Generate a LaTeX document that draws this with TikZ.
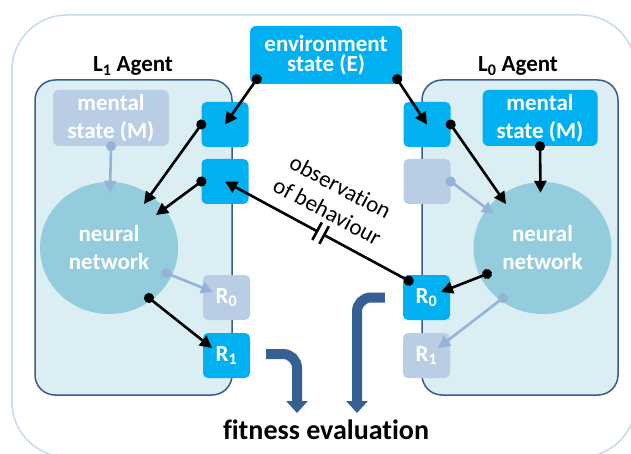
\documentclass[tikz,border=0pt]{standalone}
\usepackage{fontspec}
\setmainfont{Carlito}[Ligatures=NoCommon]
\usetikzlibrary{arrows.meta,shapes.geometric,decorations.markings}

\definecolor{active}{HTML}{00B0F0}
\definecolor{faded}{HTML}{B9CDE5}
\definecolor{fadedline}{HTML}{95B3D7}
\definecolor{agentfill}{HTML}{DBEEF4}
\definecolor{agentline}{HTML}{385D8A}
\definecolor{netfill}{HTML}{93CDDD}
\definecolor{outerline}{HTML}{C6D9F1}
\definecolor{fitline}{HTML}{376092}

\begin{document}
\begin{tikzpicture}[x=1pt, y=-1pt,
	agent/.style={draw=agentline, line width=1.5pt, fill=agentfill, rounded corners=20pt, inner sep=0pt},
	title/.style={anchor=base, inner sep=0pt, font=\fontsize{23}{28}\selectfont\bfseries},
	port/.style={rectangle, rounded corners=5pt, inner sep=0pt, minimum width=47pt, minimum height=45pt, text=white, font=\fontsize{23}{28}\selectfont\bfseries},
	statebox/.style={rectangle, rounded corners=6pt, inner sep=0pt, align=center, text=white, font=\fontsize{23}{28}\selectfont\bfseries},
	net/.style={ellipse, fill=netfill, inner sep=0pt, minimum width=138pt, minimum height=132pt, align=center, text=white, font=\fontsize{23}{28}\selectfont\bfseries},
	link/.style={line width=2.6pt, shorten <=-5pt, {Circle[length=10pt]}-{Triangle[length=12pt,width=12pt]}},
	weak/.style={link, draw=fadedline},
	fitpath/.style={draw=fitline, line width=10pt, rounded corners=14pt, -{Triangle[length=12pt,width=21pt]}},
	bars/.style={postaction={decorate}, decoration={markings, mark=at position 0.48 with {
		\fill[white] (-4,-12) rectangle (4,12);
		\draw[line width=2.6pt, arrows=-, shorten <=0pt] (-4,-10) -- (-4,10) (4,-10) -- (4,10);}}}
]
	\useasboundingbox (0,0) rectangle (631,454);
	\clip (0,0) rectangle (631,454);
	
	% Frame and agents
	\node (world) at (324,236) [draw=outerline, line width=1.5pt, rounded corners=55pt, minimum width=624pt, minimum height=442pt] {};
	\node (agentL) at (133.5,237.5) [agent, minimum width=197pt, minimum height=315pt] {};
	\node (agentR) at (520,237.5) [agent, minimum width=196pt, minimum height=315pt] {};
	\node (titleL) at (133,72) [title] {L\textsubscript{1} Agent};
	\node (titleR) at (518,72) [title] {L\textsubscript{0} Agent};
	
	% States and networks
	\node (env) at (326,55) [statebox, fill=active, minimum width=152pt, minimum height=58pt, font=\fontsize{23}{20}\selectfont\bfseries] {environment\\state (E)};
	\node (mentalL) at (111,118) [statebox, fill=faded, minimum width=116pt, minimum height=56pt] {mental\\state (M)};
	\node (mentalR) at (540,118) [statebox, fill=active, minimum width=115pt, minimum height=56pt] {mental\\state (M)};
	\node (nnL) at (109,248) [net] {neural\\network};
	\node (nnR) at (542.5,248) [net] {neural\\network};
	
	% Input ports
	\foreach \name/\x/\y/\col in {inL1/225/124.5/active, inL2/225/181.5/active, inR1/427/124.5/active, inR2/427/181.5/faded}{
		\node (\name) at (\x,\y) [port, fill=\col] {};
	}
	
	% Output ports
	\foreach \n/\y/\colL/\colR in {0/297.5/faded/active, 1/355.5/active/faded}{
		\node (outL\n) at (226.5,\y) [port, fill=\colL] {R\textsubscript{\n}};
		\node (outR\n) at (426.5,\y) [port, fill=\colR] {R\textsubscript{\n}};
	}
	
	% L1 agent links
	\draw [link] ([shift={(7,-5)}]env.south west) -- (inL1.center);
	\draw [link] (inL1.west) -- ([shift={(35,-44)}]nnL.center);
	\draw [link] (inL2.west) -- ([shift={(47,-33)}]nnL.center);
	\draw [weak] (mentalL.south) -- ([shift={(1,11)}]nnL.north);
	\draw [weak] ([shift={(57,25)}]nnL.center) -- ([shift={(-13.5,-5.5)}]outL0.center);
	\draw [link] ([shift={(40,50)}]nnL.center) -- ([shift={(-14.5,-7.5)}]outL1.center);
	
	% L0 agent links
	\draw [link] ([shift={(-5,-5)}]env.south east) -- (inR1.center);
	\draw [link] (inR1.east) -- ([shift={(-36.5,-44)}]nnR.center);
	\draw [weak] (inR2.east) -- ([shift={(-48.5,-34)}]nnR.center);
	\draw [link] (mentalR.south) -- ([shift={(-2,11)}]nnR.north);
	\draw [link] ([shift={(-55.5,26)}]nnR.center) -- ([shift={(14.5,-5.5)}]outR0.center);
	\draw [weak] ([shift={(-39.5,50)}]nnR.center) -- ([shift={(11.5,-7.5)}]outR1.center);
	
	% Observation
	\draw [link, bars] ([shift={(6,6)}]outR0.north west) -- (inL2.center);
	\node (obs) at (334,199) [rotate=-28, align=center, inner sep=0pt, font=\fontsize{23}{28}\selectfont] {observation\\of behaviour};
	
	% Fitness
	\node (fitness) at (326,439) [anchor=base, inner sep=0pt, font=\fontsize{28}{32}\selectfont\bfseries] {fitness evaluation};
	\draw [fitpath] ([shift={(16,-1.5)}]outL1.east) -| ([shift={(-29,-26)}]fitness.base);
	\draw [fitpath] ([shift={(-18,0)}]outR0.west) -| ([shift={(31,-26)}]fitness.base);
	
\end{tikzpicture}
\end{document}
